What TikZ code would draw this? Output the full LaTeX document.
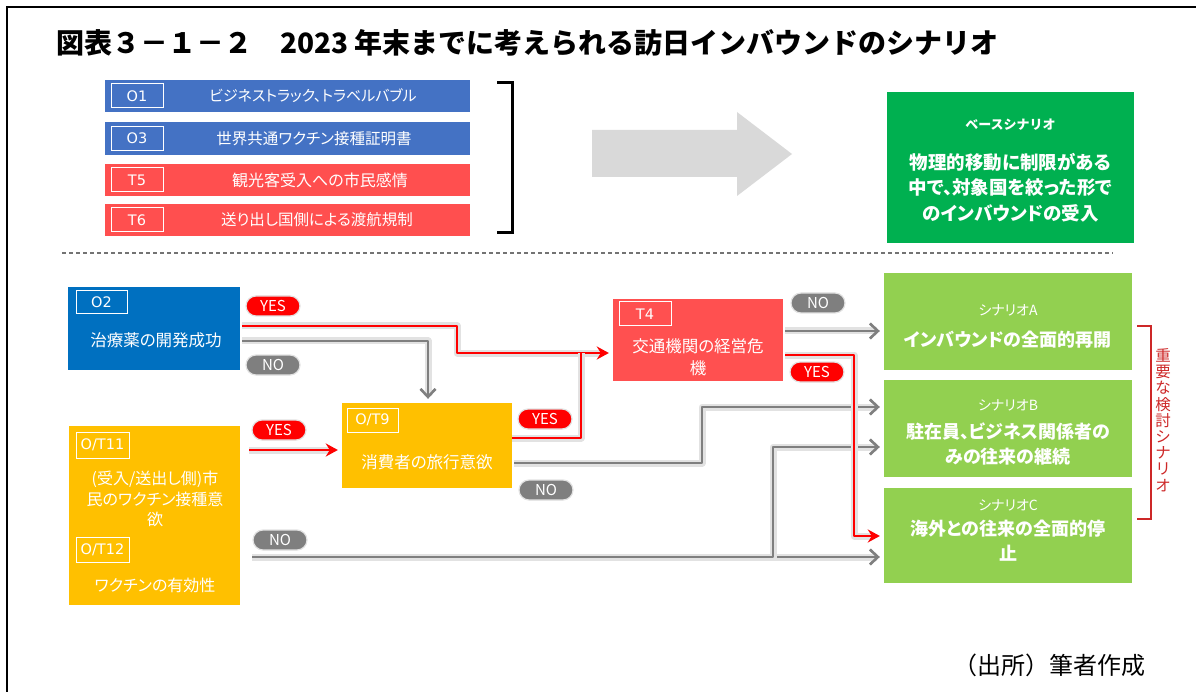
\documentclass[tikz,border=0pt]{standalone}
\usepackage{fontspec}
\setmainfont{Noto Sans CJK JP}
\newfontfamily\jp{Noto Sans CJK JP}
\newfontfamily\jpp[RawFeature=+palt]{Noto Sans CJK JP}
\newfontfamily\lab{DejaVu Sans}
\usetikzlibrary{arrows.meta,calc}
\definecolor{topblue}{HTML}{4472C4}
\definecolor{topred}{HTML}{FF4F4F}
\definecolor{oblue}{HTML}{0070C0}
\definecolor{oyellow}{HTML}{FFC000}
\definecolor{tred}{HTML}{FF5050}
\definecolor{basegreen}{HTML}{00B050}
\definecolor{scgreen}{HTML}{92D050}
\definecolor{bigarrow}{HTML}{D9D9D9}
\definecolor{lgray}{HTML}{7F7F7F}
\definecolor{lred}{HTML}{FF0000}
\definecolor{halo}{HTML}{E2E2E2}
\definecolor{brred}{RGB}{205,40,40}
\tikzset{
  box/.style={rectangle, inner sep=0pt, minimum width=#1},
  labbox/.style={rectangle, draw=white, line width=1pt, inner sep=0pt, minimum width=52pt, minimum height=24pt, text=white, font=\lab\fontsize{14.5}{16}\selectfont},
  wtext/.style={text=white, inner sep=0pt, align=center},
  pill/.style={rectangle, rounded corners=10pt, minimum width=54pt, minimum height=20pt, inner sep=0pt, text=white, draw=halo, line width=1.2pt, font=\jp\fontsize{15}{16}\selectfont},
  grayline/.style={draw=lgray, line width=2.6pt, line join=round, preaction={draw=halo, line width=7pt, line join=round}},
  redline/.style={draw=lred, line width=2.4pt, line join=round, preaction={draw=halo, line width=7pt, line join=round}},
  grayarrow/.style={grayline, -{Straight Barb[length=8pt,width=15pt,line width=2.6pt]}, shorten >=4pt, shorten <=2pt},
  redarrow/.style={redline, -{Stealth[length=12pt,width=13pt,inset=4pt]}, shorten >=4pt, shorten <=2pt},
}
\begin{document}
\begin{tikzpicture}[x=1pt,y=-1pt]
\useasboundingbox (0,0) rectangle (1196,692);
% frame
\draw[line width=2.2pt, black] (7,692) -- (7,7) -- (1196,7);
% title
\node[anchor=west, inner sep=0pt, font=\jp\bfseries\fontsize{28}{30}\selectfont] (title) at (56,43) {図表３－１－２　2023 年末までに考えられる訪日インバウンドのシナリオ};

% top boxes
\node[box=365pt, minimum height=32pt, fill=topblue] (o1) at (287.5,96) {};
\node[box=365pt, minimum height=33pt, fill=topblue] (o3) at (287.5,138.5) {};
\node[box=365pt, minimum height=32pt, fill=topred] (t5) at (287.5,180) {};
\node[box=365pt, minimum height=32pt, fill=topred] (t6) at (287.5,220) {};
\node[labbox] (o1l) at (137,96) {O1};
\node[labbox] (o3l) at (137,138.5) {O3};
\node[labbox] (t5l) at (137,180) {T5};
\node[labbox] (t6l) at (137,220) {T6};
\node[wtext, font=\jpp\fontsize{15}{18}\selectfont] (o1t) at (313,96) {ビジネストラック、トラベルバブル};
\node[wtext, font=\jpp\fontsize{15.5}{18}\selectfont] (o3t) at (314,138.5) {世界共通ワクチン接種証明書};
\node[wtext, font=\jpp\fontsize{16}{18}\selectfont] (t5t) at (320,180) {観光客受入への市民感情};
\node[wtext, font=\jpp\fontsize{15.5}{18}\selectfont] (t6t) at (317,220) {送り出し国側による渡航規制};
% bracket
\draw[line width=3pt, black] (497,83) -- (512,83) -- (512,233) -- (497,233);
% big arrow
\fill[bigarrow] (592,130) -- (737,130) -- (737,112) -- (792,154) -- (737,196) -- (737,177) -- (592,177) -- cycle;
% base scenario
\node[box=247pt, minimum height=151pt, fill=basegreen] (base) at (1010.5,167.5) {};
\node[wtext, font=\jp\bfseries\fontsize{13}{15}\selectfont] (baset) at (1010.5,125) {ベースシナリオ};
\node[wtext, font=\jpp\bfseries\fontsize{18.5}{25.5}\selectfont] (basem) at (1010.5,187.5) {物理的移動に制限がある\\中で、対象国を絞った形で\\のインバウンドの受入};
% dashed separator
\draw[draw=black!55, line width=1.2pt, dash pattern=on 4pt off 3pt] (62,253) -- (1113,253);

% lower boxes
\node[box=172pt, minimum height=83pt, fill=oblue] (o2) at (154,328.5) {};
\node[labbox, minimum width=51pt, minimum height=23pt] (o2l) at (101.5,302.5) {O2};
\node[wtext, font=\jpp\fontsize{16.5}{20}\selectfont] (o2t) at (156,340) {治療薬の開発成功};

\node[box=170pt, minimum height=85pt, fill=oyellow] (t9) at (427,445.5) {};
\node[labbox, minimum width=51pt] (t9l) at (372.5,420) {O/T9};
\node[wtext, font=\jpp\fontsize{16.5}{20}\selectfont] (t9t) at (427,462) {消費者の旅行意欲};

\node[box=171pt, minimum height=179pt, fill=oyellow] (ot11) at (154.5,515.5) {};
\node[labbox, minimum width=53pt, minimum height=26pt] (ot11l) at (102.5,445) {O/T11};
\node[wtext, font=\jpp\fontsize{16}{20.5}\selectfont] (ot11t) at (155,499) {(受入/送出し側)市\\民のワクチン接種意\\欲};
\node[labbox, minimum width=53pt, minimum height=25pt] (ot12l) at (102.5,549.5) {O/T12};
\node[wtext, font=\jpp\fontsize{16}{20}\selectfont] (ot12t) at (155,585) {ワクチンの有効性};

\node[box=170pt, minimum height=82pt, fill=tred] (t4) at (698,340) {};
\node[labbox] (t4l) at (645,314) {T4};
\node[wtext, font=\jpp\fontsize{16.5}{22}\selectfont] (t4t) at (698,357) {交通機関の経営危\\機};

\node[box=248pt, minimum height=97pt, fill=scgreen] (A) at (1008,321.5) {};
\node[box=248pt, minimum height=97pt, fill=scgreen] (B) at (1008,428.5) {};
\node[box=248pt, minimum height=95pt, fill=scgreen] (C) at (1008,535.5) {};
\node[wtext, font=\jpp\fontsize{14}{16}\selectfont] (At) at (1008,310) {シナリオA};
\node[wtext, font=\jpp\bfseries\fontsize{18}{22}\selectfont] (Am) at (1008,340) {インバウンドの全面的再開};
\node[wtext, font=\jpp\fontsize{14}{16}\selectfont] (Bt) at (1008,405) {シナリオB};
\node[wtext, font=\jpp\bfseries\fontsize{18}{25}\selectfont] (Bm) at (1008,444.5) {駐在員、ビジネス関係者の\\みの往来の継続};
\node[wtext, font=\jpp\fontsize{14}{16}\selectfont] (Ct) at (1008,505) {シナリオC};
\node[wtext, font=\jpp\bfseries\fontsize{18}{25}\selectfont] (Cm) at (1008,540.5) {海外との往来の全面的停\\止};
% red bracket and vertical text
\draw[draw=brred, line width=2pt] (1137,326) -- (1151,326) -- (1151,519) -- (1137,519);
\node[text=brred, inner sep=0pt, align=center, font=\jp\fontsize{15.5}{16.2}\selectfont] (vt) at (1163,420) {重\\要\\な\\検\\討\\シ\\ナ\\リ\\オ};

% connectors (gray first)
\draw[grayarrow] (o2.east |- 0,341) -- (428,341) -- (428,0 |- t9.north);
\draw[grayarrow] (t9.east |- 0,463) -- (702,463) -- (702,407) -- (B.west |- 0,407);
\draw[grayarrow] ($(ot11.east |- 0,557)+(10,0)$) -- (C.west |- 0,557);
\draw[grayarrow] (660,557) -- (773,557) -- (773,447) -- (B.west |- 0,447);
\draw[grayarrow] (t4.east |- 0,331) -- (A.west |- 0,331);
% red connectors
\draw[redarrow] (o2.east |- 0,326) -- (457,326) -- (457,353) -- (t4.west |- 0,353);
\draw[redline] (t9.east |- 0,438) -- (581,438) -- (581,353);
\draw[redarrow] ($(ot11.east |- 0,450)+(7,0)$) -- (t9.west |- 0,450);
\draw[redarrow] (t4.east |- 0,355) -- (854,355) -- (854,536) -- (C.west |- 0,536);

% pills
\node[pill, fill=lred] (yes1) at (273,306) {YES};
\node[pill, fill=lgray] (no1) at (273,365) {NO};
\node[pill, fill=lred] (yes2) at (279,430) {YES};
\node[pill, fill=lgray] (no2) at (280,540) {NO};
\node[pill, fill=lred] (yes3) at (545,419) {YES};
\node[pill, fill=lgray] (no3) at (546,490) {NO};
\node[pill, fill=lgray] (no4) at (818,303) {NO};
\node[pill, fill=lred] (yes4) at (817,372) {YES};

% source
\node[inner sep=0pt, font=\jp\fontsize{24}{26}\selectfont] (src) at (1049,665) {（出所）筆者作成};
\end{tikzpicture}
\end{document}
